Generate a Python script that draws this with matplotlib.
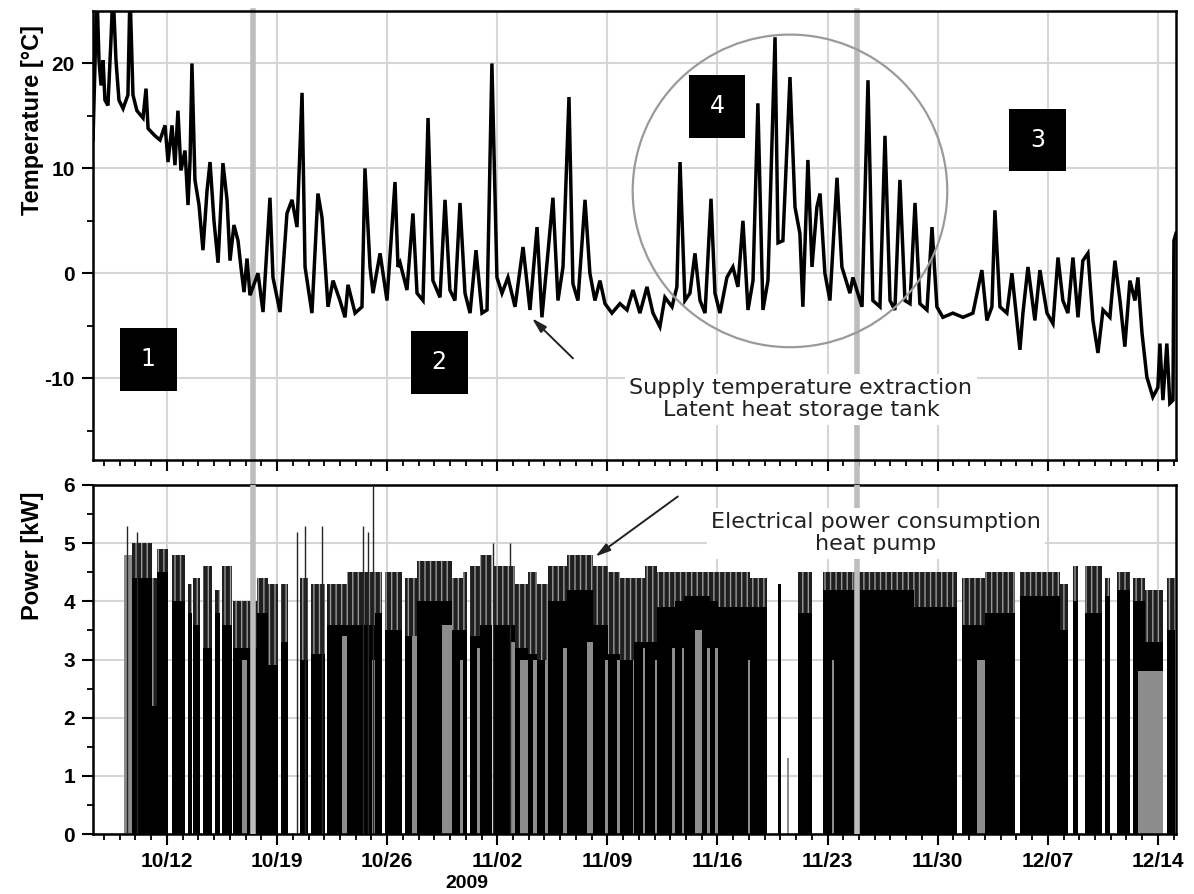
import matplotlib
matplotlib.use("Agg")
import matplotlib.pyplot as plt
import matplotlib.dates as mdates
from matplotlib.patches import Ellipse, Rectangle
from datetime import datetime
import numpy as np

# all times are days counted from 2009-10-01
temp_day = [6.30, 6.43, 6.55, 6.68, 6.81, 6.94, 7.06, 7.25, 7.44, 7.57, 7.76, 7.95, 8.21, 8.52, 8.65, 8.84,
            9.09, 9.48, 9.67, 9.80, 10.24, 10.56, 10.88, 11.07, 11.32, 11.51, 11.70, 11.89, 12.15, 12.34,
            12.47, 12.59, 12.78, 13.04, 13.29, 13.55, 13.74, 13.99, 14.25, 14.56, 14.82, 15.01, 15.26,
            15.52, 15.71, 15.90, 16.09, 16.28,
            16.79, 17.11, 17.55, 17.74, 18.19, 18.63, 18.95, 19.27, 19.59, 19.78, 20.22, 20.60, 20.86,
            21.24, 21.56, 22.00, 22.32, 22.51, 22.96, 23.40, 23.59, 23.91, 24.10, 24.55, 24.99, 25.50, 25.69,
            25.82, 26.26, 26.64, 26.90, 27.28, 27.60, 27.91, 28.36, 28.68, 28.99, 29.31, 29.63, 29.95,
            30.27, 30.65, 31.03, 31.35, 31.66, 31.98, 32.30, 32.68, 33.13, 33.64, 34.08, 34.53, 34.84,
            35.22, 35.54, 35.86, 36.18, 36.56, 36.81, 37.13, 37.58, 37.89, 38.21, 38.53, 38.85, 39.29,
            39.80, 40.25, 40.63, 41.07, 41.52, 41.90, 42.34, 42.66, 43.11, 43.42, 43.62, 43.93, 44.25,
            44.57, 44.89, 45.21, 45.59, 45.84, 46.16, 46.60, 46.98, 47.30, 47.62, 47.94, 48.26, 48.57,
            48.89, 49.21, 49.66, 49.85, 50.16, 50.61, 50.93, 51.24,
            51.43, 51.75, 52.01, 52.32, 52.52, 52.83, 53.15, 53.60, 53.91, 54.42, 54.61, 55.19, 55.57,
            55.88, 56.33, 56.65, 56.97, 57.28, 57.60, 57.92, 58.24, 58.56, 58.87, 59.32, 59.64, 59.95,
            60.33, 60.97, 61.61, 62.24, 62.81, 63.13, 63.45, 63.64, 63.96, 64.40, 64.72, 65.23, 65.42,
            65.74, 66.18, 66.50, 66.95, 67.33, 67.65, 67.96, 68.28, 68.60, 68.92, 69.23, 69.55, 69.87,
            70.19, 70.51, 70.95, 71.27, 71.59, 71.90, 72.22, 72.54, 72.73, 72.99, 73.30, 73.68, 74.00,
            74.13, 74.32, 74.57, 74.76, 74.96, 75.02, 75.15]
temp_val = [12.7, 20.3, 27.0, 20.3, 17.9, 20.3, 16.5, 16.0, 22.2, 27.0, 20.3, 16.5, 15.7, 17.0, 27.0, 17.0,
            15.5, 14.8, 17.6, 13.8, 13.1, 12.7, 14.1, 10.6, 14.1, 10.3, 15.5, 9.8, 11.7, 6.5,
            10.8, 20.0, 8.9, 6.5, 2.2, 7.9, 10.6, 5.0, 1.0, 10.5, 7.0, 1.2, 4.6,
            3.1, 0.5, -1.8, 1.4, -2.1,
            0.0, -3.7, 7.2, -0.4, -3.7, 5.7, 7.0, 4.4, 17.2, 0.6, -3.8, 7.6, 5.3,
            -3.2, -0.7, -2.6, -4.2, -1.1, -3.8, -3.2, 10.0, 0.6, -1.9, 1.9, -2.6, 8.7, 0.6,
            1.0, -1.6, 5.7, -1.9, -2.6, 14.8, -0.7, -2.3, 7.0, -1.6, -2.6, 6.7, -1.9,
            -3.8, 2.2, -3.8, -3.5, 20.0, -0.4, -1.9, -0.4, -3.2, 2.5, -3.5, 4.4, -4.2,
            1.9, 7.2, -2.6, 0.6, 16.8, -1.0, -2.6, 7.0, 0.0, -2.6, -0.7, -2.9, -3.8,
            -2.9, -3.5, -1.6, -3.8, -1.3, -3.8, -5.1, -2.3, -3.2, -1.3, 10.6, -2.6, -1.9,
            1.9, -2.6, -3.8, 7.1, -1.9, -3.8, -0.4, 0.6, -1.3, 5.0, -3.5, -0.7, 16.2,
            -3.5, -0.7, 22.5, 2.9, 3.1, 18.7, 6.3, 3.8,
            -3.2, 10.8, 0.6, 6.3, 7.6, 0.0, -2.6, 9.1, 0.6, -1.9, -0.4, -3.2, 18.4,
            -2.6, -3.2, 13.1, -2.6, -3.5, 8.9, -2.6, -2.9, 6.7, -2.9, -3.5, 4.4, -3.2,
            -4.2, -3.8, -4.2, -3.8, 0.3, -4.5, -3.2, 6.0, -3.2, -3.8, 0.0, -7.3, -3.8,
            0.6, -4.5, 0.3, -3.8, -4.8, 1.5, -2.6, -3.8, 1.5, -4.2, 1.2, 1.9, -4.5,
            -7.6, -3.5, -4.2, 1.2, -2.6, -7.0, -0.7, -2.6, -0.4, -5.7, -9.9, -11.8, -10.9,
            -6.7, -12.1, -6.7, -12.4, -12.1, 3.1, 3.8]

# heat pump operating blocks: solid level and top of the dense spikes
run_start = [8.78, 10.05, 10.37, 11.32, 12.34, 12.66, 13.29, 14.06, 14.50, 15.20, 16.09, 16.73, 17.42,
             18.25, 19.46, 20.16, 21.18, 22.45, 24.23, 24.86, 26.13, 26.90, 29.12, 29.82, 30.27, 30.90,
             31.73, 33.13, 33.95, 34.53, 35.22, 36.43, 38.09, 39.04, 39.80, 40.69, 41.39, 42.15, 43.30,
             43.87, 45.01, 45.52, 46.03, 48.07, 49.85, 51.12, 52.71, 58.50, 61.54, 63.00, 65.23, 67.77,
             68.60, 69.36, 70.63, 71.40, 72.41, 73.18, 74.57]
run_end = [10.05, 10.37, 11.07, 12.15, 12.59, 13.10, 13.87, 14.37, 15.14, 16.09, 16.73, 17.42, 18.06,
           18.70, 19.97, 21.05, 22.45, 24.23, 24.67, 25.94, 26.90, 29.12, 29.82, 30.08, 30.90, 31.66,
           33.13, 33.95, 34.53, 35.22, 36.43, 38.09, 39.04, 39.80, 40.69, 41.39, 42.15, 43.30, 43.87,
           45.01, 45.52, 46.03, 48.07, 49.15, 50.04, 52.01, 58.50, 61.22, 63.00, 64.91, 67.77, 68.28,
           68.92, 70.44, 70.95, 72.22, 73.18, 74.32, 75.08]
run_base = [4.4, 2.2, 4.5, 4.0, 3.8, 3.6, 3.2, 3.8, 3.6, 3.2, 3.2, 3.8, 2.9,
            3.3, 3.0, 3.1, 3.6, 3.6, 3.8, 3.5, 3.4, 4.0, 3.5, 3.5, 3.4, 3.6,
            3.6, 3.2, 3.1, 3.0, 4.0, 4.2, 3.6, 3.1, 3.0, 3.3, 3.3, 3.9, 4.0,
            4.1, 4.1, 4.0, 3.9, 3.9, 4.3, 3.8, 4.2, 3.9, 3.6, 3.8, 4.1, 3.5,
            4.0, 3.8, 4.1, 4.2, 4.0, 3.3, 3.5]
run_peak = [5.0, 4.4, 4.9, 4.8, 4.3, 4.4, 4.6, 4.2, 4.6, 4.0, 4.0, 4.4, 4.3,
            4.3, 4.4, 4.3, 4.3, 4.5, 4.5, 4.5, 4.4, 4.7, 4.4, 4.5, 4.6, 4.8,
            4.6, 4.3, 4.5, 4.3, 4.6, 4.8, 4.6, 4.5, 4.4, 4.4, 4.6, 4.5, 4.5,
            4.5, 4.5, 4.5, 4.5, 4.4, 4.3, 4.5, 4.5, 4.5, 4.4, 4.5, 4.5, 4.3,
            4.6, 4.6, 4.4, 4.5, 4.4, 4.2, 4.4]

# light grey columns in the power record
gray_start = [8.27, 15.77, 22.13, 24.04, 26.58, 28.49, 29.63, 30.71, 32.81, 33.44, 34.27, 35.03, 36.18,
              37.70, 38.85, 39.61, 40.63, 41.26, 42.03, 43.11, 43.74, 44.57, 45.33, 45.84, 47.94, 50.44,
              53.30, 62.50, 72.73, 73.18]
gray_end = [8.78, 16.09, 22.45, 24.23, 26.90, 29.12, 29.82, 30.90, 33.13, 33.95, 34.53, 35.22, 36.43,
            38.09, 39.04, 39.80, 40.69, 41.39, 42.15, 43.30, 43.87, 45.01, 45.52, 46.03, 48.07, 50.52,
            53.40, 63.00, 73.18, 74.32]
gray_top = [4.8, 3.0, 3.4, 3.0, 3.4, 3.6, 3.0, 3.2, 3.3, 3.0, 3.0, 3.0, 3.2,
            3.3, 3.0, 3.0, 3.0, 3.2, 3.0, 3.2, 3.2, 3.5, 3.2, 3.2, 3.0, 1.3,
            3.0, 3.0, 2.8, 2.8]

# isolated tall samples
spike_day = [8.46, 9.10, 19.27, 19.78, 20.86, 23.47, 23.78, 24.10, 31.73, 32.81]
spike_top = [5.3, 5.2, 5.2, 5.3, 5.3, 5.3, 5.2, 6.0, 5.0, 5.0]

# phase change markers
phase_lines = [16.47, 54.87]

base = mdates.date2num(datetime(2009, 10, 1))


def d(v):
    return base + np.asarray(v, dtype=float)


plt.rcParams['font.family'] = ['Liberation Sans', 'DejaVu Sans']
plt.rcParams['axes.unicode_minus'] = False
plt.rcParams['hatch.linewidth'] = 1.0

fig = plt.figure(figsize=(11.94, 8.94), dpi=100)
ax1 = fig.add_axes([0.0779, 0.4855, 0.907, 0.5022])
ax2 = fig.add_axes([0.0779, 0.0671, 0.907, 0.3904], sharex=ax1)

grid_kw = dict(color='#d6d6d6', lw=1.5)

# temperature panel
ax1.plot(d(temp_day), temp_val, color='black', lw=2.5, zorder=3, solid_joinstyle='miter')
ax1.set_ylim(-17.8, 25)
ax1.set_yticks([-10, 0, 10, 20])
ax1.set_yticks([-15, -5, 5, 15], minor=True)
ax1.set_ylabel('Temperature [°C]', fontsize=17, fontweight='bold')
ax1.yaxis.set_label_coords(-0.045, 0.757)
ax1.grid(True, which='major', **grid_kw)
ax1.set_axisbelow(True)
ax1.tick_params(axis='x', labelbottom=False)

# power panel
s = np.asarray(run_start)
e = np.asarray(run_end)
b = np.asarray(run_base)
p = np.asarray(run_peak)
ax2.bar(d(s), b, width=e - s, align='edge', color='black', linewidth=0, zorder=2)
ax2.bar(d(s), p - b, bottom=b, width=e - s, align='edge', facecolor='0.12', edgecolor='0.6',
        hatch='|||', linewidth=0, zorder=2)
gs = np.asarray(gray_start)
ge = np.asarray(gray_end)
ax2.bar(d(gs), gray_top, width=ge - gs, align='edge', color='0.55', linewidth=0, zorder=2.5)
ax2.vlines(d(spike_day), 0, spike_top, color='0.15', lw=1.0, zorder=2.6)
ax2.set_ylim(0, 6)
ax2.set_yticks(range(0, 7))
ax2.set_yticks(np.arange(0.5, 6, 1.0), minor=True)
ax2.set_ylabel('Power [kW]', fontsize=17, fontweight='bold')
ax2.yaxis.set_label_coords(-0.045, 0.797)
ax2.grid(True, which='major', **grid_kw)
ax2.set_axisbelow(True)

ax2.set_xlim(d(6.30), d(75.15))
ax2.xaxis.set_major_locator(mdates.WeekdayLocator(byweekday=mdates.MO))
ax2.xaxis.set_minor_locator(mdates.DayLocator())
ax2.xaxis.set_major_formatter(mdates.DateFormatter('%m/%d'))

for ax in (ax1, ax2):
    for sp in ax.spines.values():
        sp.set_linewidth(1.8)
    ax.tick_params(which='major', direction='out', length=8, width=1.5, labelsize=15, pad=5)
    ax.tick_params(which='minor', direction='out', length=4.5, width=1.3)
    for lab in ax.get_xticklabels() + ax.get_yticklabels():
        lab.set_fontweight('bold')

# phase change lines through both panels
for t in phase_lines:
    ax1.axvline(d(t), ymin=-0.056, ymax=1, color='#bdbdbd', lw=4, zorder=2, clip_on=False)
    ax2.axvline(d(t), color='#bdbdbd', lw=4, zorder=3)

# numbered phase boxes
for label, tx, ty in [('1', 9.80, -8.2), ('2', 28.30, -8.5), ('4', 45.97, 15.9), ('3', 66.37, 12.7)]:
    ax1.add_patch(Rectangle((d(tx) - 1.81, ty - 3.0), 3.62, 6.0, facecolor='black',
                            edgecolor='none', zorder=5))
    ax1.text(d(tx), ty, label, color='white', fontsize=17, ha='center', va='center',
             family='DejaVu Sans', zorder=6)

ax1.add_patch(Ellipse((d(50.61), 7.85), 20.0, 29.8, fill=False, edgecolor='#9a9a9a', lw=1.6, zorder=4))

ax1.text(d(51.31), -12.0, 'Supply temperature extraction\nLatent heat storage tank', fontsize=16,
         ha='center', va='center', family='DejaVu Sans', color='#222222', linespacing=1.15,
         bbox=dict(facecolor='white', edgecolor='none', pad=3), zorder=4)
ax1.annotate('', xy=(d(34.08), -4.1), xytext=(d(36.94), -8.3),
             arrowprops=dict(arrowstyle='-|>,head_length=0.9,head_width=0.25', color='#222222', lw=1.4),
             zorder=6)

ax2.text(d(56.08), 5.17, 'Electrical power consumption\nheat pump', fontsize=16,
         ha='center', va='center', family='DejaVu Sans', color='#222222', linespacing=1.15,
         bbox=dict(facecolor='white', edgecolor='none', pad=3), zorder=4)
ax2.annotate('', xy=(d(38.09), 4.74), xytext=(d(43.62), 5.83),
             arrowprops=dict(arrowstyle='-|>,head_length=0.9,head_width=0.25', color='#222222', lw=1.4),
             zorder=6)

fig.text(467 / 1194, 1 - 883 / 894, '2009', fontsize=14, fontweight='bold', ha='center', va='center')

fig.savefig('out.png', dpi=100)
